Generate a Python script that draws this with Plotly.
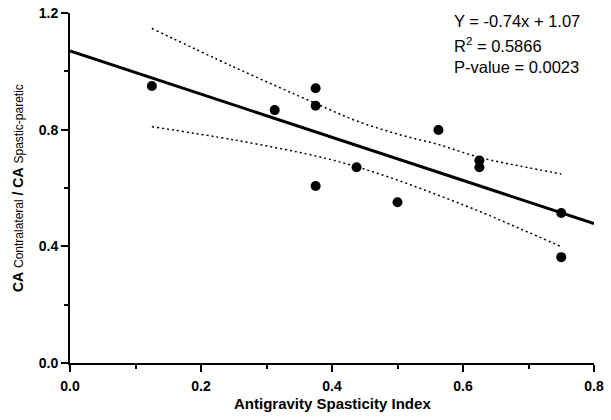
import plotly.graph_objects as go

# Data
asi = [0.125, 0.3125, 0.375, 0.375, 0.375, 0.4375, 0.5, 0.5625, 0.625, 0.625, 0.75, 0.75]
ca_ratio = [0.950, 0.867, 0.942, 0.882, 0.607, 0.671, 0.551, 0.799, 0.694, 0.671, 0.514, 0.363]

fit_x = [0.0, 0.8]
fit_y = [1.07, 0.478]

band_x = [0.125, 0.25, 0.375, 0.4375, 0.5, 0.5625, 0.625, 0.6875, 0.75]
band_upper = [1.147, 1.015, 0.89, 0.83, 0.785, 0.749, 0.705, 0.675, 0.648]
band_lower = [0.810, 0.765, 0.71, 0.673, 0.627, 0.575, 0.52, 0.46, 0.399]

eq_lines = ["Y = -0.74x + 1.07", "R<sup>2</sup> = 0.5866", "P-value = 0.0023"]

x_title = "Antigravity Spasticity Index"
y_title = ('<b>CA</b> <span style="font-size:12px">Contralateral</span> '
           '<b>/ CA</b> <span style="font-size:12px">Spastic-paretic</span>')

FONT = "Liberation Sans, Arial, Helvetica, sans-serif"

fig = go.Figure()
fig.add_trace(go.Scatter(x=band_x, y=band_upper, mode="lines", line=dict(color="black", width=1.5, dash="2px,3px", shape="spline"), hoverinfo="skip"))
fig.add_trace(go.Scatter(x=band_x, y=band_lower, mode="lines", line=dict(color="black", width=1.5, dash="2px,3px", shape="spline"), hoverinfo="skip"))
fig.add_trace(go.Scatter(x=fit_x, y=fit_y, mode="lines", line=dict(color="black", width=3), cliponaxis=False))
fig.add_trace(go.Scatter(x=asi, y=ca_ratio, mode="markers", marker=dict(color="black", size=10), cliponaxis=False))

ys = [1.172, 1.092, 1.016]
for t, yv in zip(eq_lines, ys):
    fig.add_annotation(x=0.583, y=yv, xref="x", yref="y", text=t, showarrow=False,
                       xanchor="left", yanchor="middle", font=dict(family=FONT, size=16.5, color="black"))

# axis titles
fig.add_annotation(x=0.5, y=-0.117, xref="paper", yref="paper", text=x_title, showarrow=False,
                   xanchor="center", yanchor="middle",
                   font=dict(family=FONT, size=15, weight="bold", color="black"))
fig.add_annotation(x=-0.099, y=0.5, xref="paper", yref="paper", text=y_title, showarrow=False,
                   textangle=-90, xanchor="center", yanchor="middle",
                   font=dict(family=FONT, size=14, color="black"))

axis_common = dict(showline=True, linecolor="black", linewidth=2,
                   ticks="outside", ticklen=7, tickwidth=2, tickcolor="black",
                   showgrid=False, zeroline=False, automargin=False, tickformat=".1f",
                   ticklabeloverflow="allow",
                   tickfont=dict(family=FONT, size=14, weight="bold", color="black"))

fig.update_layout(
    width=611, height=420,
    margin=dict(l=70, r=17, t=13, b=57),
    paper_bgcolor="white", plot_bgcolor="white",
    showlegend=False,
    hovermode=False,
    font=dict(family=FONT, color="black"),
    xaxis=dict(range=[0, 0.8], dtick=0.2, tick0=0,
               minor=dict(dtick=0.1, ticks="outside", ticklen=4, tickwidth=2, tickcolor="black"),
               ticklabelstandoff=2,
               **axis_common),
    yaxis=dict(range=[0, 1.2], dtick=0.4, tick0=0,
               minor=dict(dtick=0.2, ticks="outside", ticklen=4, tickwidth=2, tickcolor="black"),
               **axis_common),
)

# remove the default page margin so the figure sits at the window origin
fig.write_html("out.html", config={"displayModeBar": False},
               post_script="document.body.style.margin='0px';")
